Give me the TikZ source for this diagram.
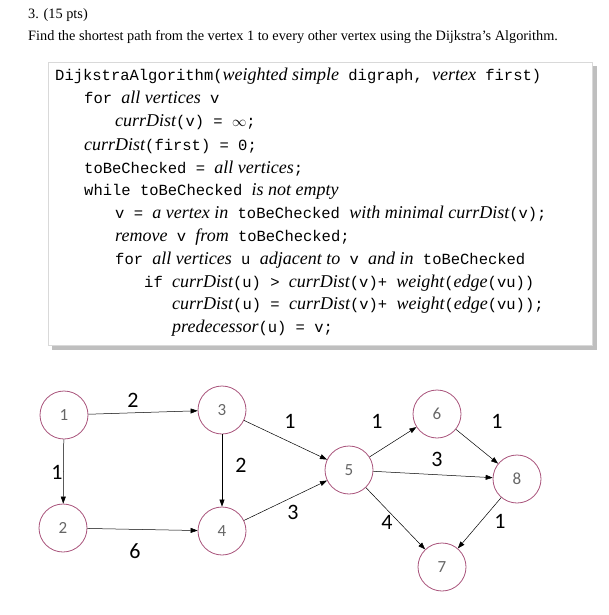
\documentclass[tikz,border=0pt]{standalone}
\usepackage{fontspec}
\setmainfont{Liberation Serif}
\setmonofont{Liberation Mono}
\newfontfamily\lblfont{Carlito}
\usetikzlibrary{arrows.meta}
\definecolor{ring}{HTML}{A8527A}
\newcommand{\ital}[1]{{\rmfamily\itshape\fontsize{18}{18}\selectfont #1}}
\begin{document}
\begin{tikzpicture}[x=1pt,y=-1pt,
  vtx/.style={circle,draw=ring,line width=0.8pt,minimum size=48pt,inner sep=0pt,text=black!60,font=\lblfont\fontsize{17}{17}\selectfont},
  edge/.style={-{Triangle[length=7pt,width=5pt]},line width=0.5pt},
  wt/.style={font=\lblfont\fontsize{22}{22}\selectfont},
  codeline/.style={anchor=base west,inner sep=0pt,font=\ttfamily\fontsize{15.5}{15.5}\selectfont}]
\useasboundingbox (0,0) rectangle (608,615);
\node[anchor=base west,inner sep=0pt,font=\fontsize{14.3}{14.3}\selectfont] (h1) at (28,19) {3. (15 pts)};
\node[anchor=base west,inner sep=0pt,font=\fontsize{14.3}{14.3}\selectfont] (h2) at (28,41) {Find the shortest path from the vertex 1 to every other vertex using the Dijkstra's Algorithm.};
\fill[black!25] (52,66) rectangle (597,350);
\fill[white,draw=black!15] (48,62) rectangle (592,345);
\node[codeline] (c1) at (55,81) {DijkstraAlgorithm(\ital{weighted simple} digraph, \ital{vertex} first)};
\node[codeline] (c2) at (84,104) {for \ital{all vertices} v};
\node[codeline] (c3) at (115,127) {\ital{currDist}(v) = $\infty$;};
\node[codeline] (c4) at (84,150) {\ital{currDist}(first) = 0;};
\node[codeline] (c5) at (84,173) {toBeChecked = \ital{all vertices};};
\node[codeline] (c6) at (84,195) {while toBeChecked \ital{is not empty}};
\node[codeline] (c7) at (115,218) {v = \ital{a vertex in} toBeChecked \ital{with minimal currDist}(v);};
\node[codeline] (c8) at (115,241) {\ital{remove} v \ital{from} toBeChecked;};
\node[codeline] (c9) at (115,264) {for \ital{all vertices} u \ital{adjacent to} v \ital{and in} toBeChecked};
\node[codeline] (c10) at (144,287) {if \ital{currDist}(u) > \ital{currDist}(v)+ \ital{weight}(\ital{edge}(vu))};
\node[codeline] (c11) at (172,309) {\ital{currDist}(u) = \ital{currDist}(v)+ \ital{weight}(\ital{edge}(vu));};
\node[codeline] (c12) at (172,332) {\ital{predecessor}(u) = v;};
\node[vtx] (n1) at (64,415) {1};
\node[vtx] (n2) at (63,528) {2};
\node[vtx] (n3) at (222,410) {3};
\node[vtx] (n4) at (222,531) {4};
\node[vtx] (n5) at (349,470) {5};
\node[vtx] (n6) at (437,414) {6};
\node[vtx] (n7) at (442,567) {7};
\node[vtx] (n8) at (517,479) {8};
\draw[edge] (n1) -- (n3);
\draw[edge] (n1) -- (n2);
\draw[edge] (n3) -- (n4);
\draw[edge] (n2) -- (n4);
\draw[edge] (n3) -- (n5);
\draw[edge] (n4) -- (n5);
\draw[edge] (n5) -- (n6);
\draw[edge] (n5) -- (n8);
\draw[edge] (n5) -- (n7);
\draw[edge] (n6) -- (n8);
\draw[edge] (n8) -- (n7);
\node[wt] (w13) at (133,400) {2};
\node[wt] (w12) at (57,472) {1};
\node[wt] (w34) at (241,465) {2};
\node[wt] (w24) at (135,551) {6};
\node[wt] (w35) at (290,421) {1};
\node[wt] (w45) at (293,512) {3};
\node[wt] (w56) at (377,421) {1};
\node[wt] (w58) at (437,459) {3};
\node[wt] (w57) at (387,522) {4};
\node[wt] (w68) at (497,421) {1};
\node[wt] (w87) at (500,521) {1};
\end{tikzpicture}
\end{document}
